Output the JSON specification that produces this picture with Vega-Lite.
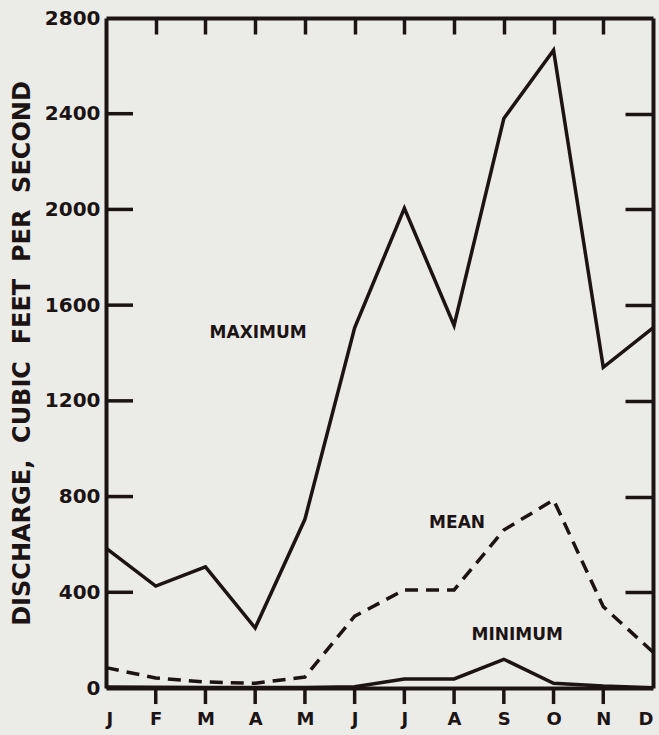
{
  "$schema": "https://vega.github.io/schema/vega-lite/v6.json",
  "autosize": "none",
  "width": 547,
  "height": 670,
  "padding": {"left": 106, "top": 18, "right": 6, "bottom": 47},
  "background": "#ebebe7",
  "config": {
    "view": {"stroke": null},
    "axis": {
      "domainColor": "#1c1414",
      "domainWidth": 4,
      "tickColor": "#1c1414",
      "tickWidth": 3.5,
      "grid": false,
      "labelFont": "DejaVu Sans",
      "labelFontWeight": "bold",
      "labelColor": "#1c1414",
      "titleFont": "DejaVu Sans",
      "titleFontWeight": "bold",
      "titleColor": "#1c1414"
    }
  },
  "datasets": {
    "flow": [
      {"m": 1, "series": "Maximum", "v": 585},
      {"m": 2, "series": "Maximum", "v": 426},
      {"m": 3, "series": "Maximum", "v": 506},
      {"m": 4, "series": "Maximum", "v": 251},
      {"m": 5, "series": "Maximum", "v": 705},
      {"m": 6, "series": "Maximum", "v": 1505},
      {"m": 7, "series": "Maximum", "v": 2005},
      {"m": 8, "series": "Maximum", "v": 1515},
      {"m": 9, "series": "Maximum", "v": 2380},
      {"m": 10, "series": "Maximum", "v": 2665},
      {"m": 11, "series": "Maximum", "v": 1340},
      {"m": 12, "series": "Maximum", "v": 1505},
      {"m": 1, "series": "Mean", "v": 85},
      {"m": 2, "series": "Mean", "v": 42},
      {"m": 3, "series": "Mean", "v": 25},
      {"m": 4, "series": "Mean", "v": 20},
      {"m": 5, "series": "Mean", "v": 46},
      {"m": 6, "series": "Mean", "v": 300},
      {"m": 7, "series": "Mean", "v": 410},
      {"m": 8, "series": "Mean", "v": 410},
      {"m": 9, "series": "Mean", "v": 660},
      {"m": 10, "series": "Mean", "v": 786},
      {"m": 11, "series": "Mean", "v": 340},
      {"m": 12, "series": "Mean", "v": 150},
      {"m": 1, "series": "Minimum", "v": 4},
      {"m": 2, "series": "Minimum", "v": 3},
      {"m": 3, "series": "Minimum", "v": 2},
      {"m": 4, "series": "Minimum", "v": 2},
      {"m": 5, "series": "Minimum", "v": 2},
      {"m": 6, "series": "Minimum", "v": 5},
      {"m": 7, "series": "Minimum", "v": 38},
      {"m": 8, "series": "Minimum", "v": 38},
      {"m": 9, "series": "Minimum", "v": 120},
      {"m": 10, "series": "Minimum", "v": 20},
      {"m": 11, "series": "Minimum", "v": 8},
      {"m": 12, "series": "Minimum", "v": 1}
    ],
    "labels": [
      {"label": "MAXIMUM", "m": 4.06, "v": 1483},
      {"label": "MEAN", "m": 8.06, "v": 690},
      {"label": "MINIMUM", "m": 9.27, "v": 221}
    ],
    "monthTicks": [{"t": 2}, {"t": 3}, {"t": 4}, {"t": 5}, {"t": 6}, {"t": 7}, {"t": 8}, {"t": 9}, {"t": 10}, {"t": 11}],
    "valueTicks": [{"t": 400}, {"t": 800}, {"t": 1200}, {"t": 1600}, {"t": 2000}, {"t": 2400}]
  },
  "layer": [
    {
      "data": {"name": "flow"},
      "transform": [{"filter": "datum.series === 'Mean'"}],
      "mark": {"type": "line", "color": "#1c1414", "strokeWidth": 3.5, "strokeDash": [13, 8]},
      "encoding": {
        "x": {
          "field": "m", "type": "quantitative",
          "scale": {"domain": [1, 12], "nice": false, "zero": false},
          "axis": {"orient": "top", "title": null, "values": [2, 3, 4, 5, 6, 7, 8, 9, 10, 11], "tickSize": -16, "labels": false}
        },
        "y": {
          "field": "v", "type": "quantitative",
          "scale": {"domain": [0, 2800], "nice": false},
          "axis": {"orient": "right", "title": null, "values": [400, 800, 1200, 1600, 2000, 2400], "tickSize": -28, "labels": false}
        }
      }
    },
    {
      "data": {"name": "flow"},
      "transform": [{"filter": "datum.series !== 'Mean'"}],
      "mark": {"type": "line", "color": "#1c1414", "strokeWidth": 3.5, "strokeJoin": "miter"},
      "encoding": {
        "x": {
          "field": "m", "type": "quantitative",
          "axis": {
            "orient": "bottom", "title": null, "ticks": false, "tickSize": 0,
            "values": [1, 2, 3, 4, 5, 6, 7, 8, 9, 10, 11, 12],
            "labelPadding": 22, "labelFontSize": 18,
            "labelExpr": "['J','F','M','A','M','J','J','A','S','O','N','D'][datum.value - 1]"
          }
        },
        "y": {
          "field": "v", "type": "quantitative",
          "axis": {
            "orient": "left", "ticks": false, "tickSize": 0,
            "values": [0, 400, 800, 1200, 1600, 2000, 2400, 2800],
            "format": "d", "labelPadding": 6, "labelFontSize": 20,
            "title": "DISCHARGE,\u00a0 CUBIC\u00a0 FEET\u00a0 PER\u00a0 SECOND",
            "titleFontSize": 24, "titleX": -84, "titleY": 335,
            "titleAngle": 270, "titleBaseline": "middle", "titleAlign": "center"
          }
        },
        "detail": {"field": "series"}
      }
    },
    {
      "data": {"name": "labels"},
      "mark": {"type": "text", "font": "DejaVu Sans", "fontWeight": "bold", "fontSize": 17, "color": "#1c1414", "align": "center", "baseline": "middle"},
      "encoding": {
        "x": {"field": "m", "type": "quantitative", "axis": null},
        "y": {"field": "v", "type": "quantitative", "axis": null},
        "text": {"field": "label"}
      }
    },
    {
      "data": {"name": "monthTicks"},
      "mark": {"type": "rule", "color": "#1c1414", "strokeWidth": 3.5, "clip": false},
      "encoding": {
        "x": {"field": "t", "type": "quantitative", "axis": null},
        "y": {"datum": 0, "type": "quantitative", "axis": null},
        "y2": {"datum": -67}
      }
    },
    {
      "data": {"name": "valueTicks"},
      "mark": {"type": "rule", "color": "#1c1414", "strokeWidth": 3.5, "clip": false},
      "encoding": {
        "y": {"field": "t", "type": "quantitative", "axis": null},
        "x": {"datum": 1, "type": "quantitative", "axis": null},
        "x2": {"datum": 1.543}
      }
    }
  ],
  "resolve": {"axis": {"x": "independent", "y": "independent"}}
}
